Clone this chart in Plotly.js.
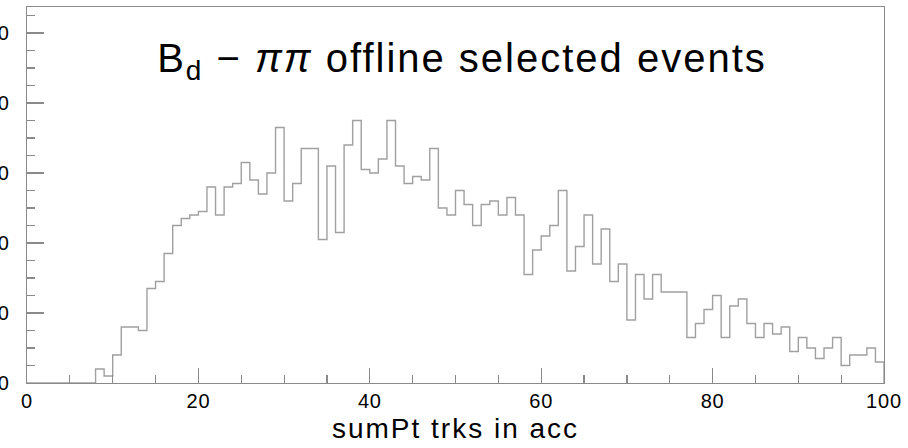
<!DOCTYPE html>
<html><head><meta charset="utf-8">
<script src="https://cdn.plot.ly/plotly-3.0.1.min.js"></script>
<style>
html,body{margin:0;padding:0;background:#fff;overflow:hidden;}
#chart{width:908px;height:448px;}
#chart .gtitle{letter-spacing:2px;}
#chart .xtitle{letter-spacing:2px;}
#chart .xtick text{letter-spacing:0.8px;}
</style>
</head><body><div id="chart"></div>
<script>
const binLow = 0;
const binWidth = 1;
const counts = [
  0, 0, 0, 0, 0, 0, 0, 0, 4, 2,
  8, 16, 16, 15, 27, 29, 37, 45, 47, 48,
  49, 56, 48, 56, 57, 63, 58, 54, 60, 73,
  52, 57, 67, 67, 41, 62, 43, 68, 75, 61,
  60, 64, 75, 62, 57, 59, 58, 67, 50, 48,
  55, 51, 45, 51, 52, 48, 53, 48, 31, 38,
  42, 45, 55, 32, 39, 48, 34, 44, 29, 34,
  18, 31, 24, 31, 26, 26, 26, 13, 17, 21,
  25, 13, 22, 24, 17, 13, 17, 14, 16, 9,
  13, 10, 7, 10, 13, 5, 8, 8, 10, 6
];
const xTickVals = [0, 20, 40, 60, 80, 100];
const xTickText = ['0', '20', '40', '60', '80', '100'];
const yTickVals = [0, 20, 40, 60, 80, 100];
const yTickText = ['0', '20', '40', '60', '80', '100'];
const titleText = 'B<sub>d</sub> − <i>ππ</i> offline selected events';
const xTitle = 'sumPt trks in acc';

const edges = counts.map((_, i) => binLow + i * binWidth);
edges.push(binLow + counts.length * binWidth);
const ys = counts.concat([counts[counts.length - 1]]);
edges.push(edges[edges.length - 1]);
ys.push(0);

const axCol = '#8a8a8a';
const font = 'Liberation Sans, Arial, Helvetica, sans-serif';

const trace = {
  type: 'scatter', mode: 'lines', x: edges, y: ys,
  line: {shape: 'hv', color: '#a0a0a0', width: 1.4},
  hoverinfo: 'skip', showlegend: false, cliponaxis: false
};

const layout = {
  width: 908, height: 448,
  margin: {l: 27, r: 24, t: 7, b: 65},
  paper_bgcolor: '#fff', plot_bgcolor: '#fff',
  font: {family: font, color: '#000'},
  title: {text: titleText, font: {family: font, size: 40, color: '#000'},
          x: 462 / 908, xanchor: 'center', xref: 'container', y: 1 - 58 / 448, yanchor: 'middle', yref: 'container'},
  xaxis: {
    range: [0, 100], showgrid: false, zeroline: false,
    showline: true, mirror: true, linecolor: axCol, linewidth: 1.2,
    ticks: 'inside', ticklen: 15, tickwidth: 1.2, tickcolor: axCol,
    tickmode: 'array', tickvals: xTickVals, ticktext: xTickText,
    tickfont: {family: font, size: 20, color: '#000'},
    minor: {tick0: 0, dtick: 5, ticks: 'inside', ticklen: 8, tickcolor: axCol, tickwidth: 1.2, showgrid: false},
    title: {text: xTitle, font: {family: font, size: 28, color: '#000'}, standoff: 7},
    automargin: false
  },
  yaxis: {
    range: [0, 107.43], showgrid: false, zeroline: false,
    showline: true, mirror: true, linecolor: axCol, linewidth: 1.2,
    ticks: 'inside', ticklen: 17, tickwidth: 1.2, tickcolor: axCol,
    tickmode: 'array', tickvals: yTickVals, ticktext: yTickText,
    tickfont: {family: font, size: 20, color: '#000'},
    ticklabelstandoff: 13,
    minor: {tick0: 0, dtick: 5, ticks: 'inside', ticklen: 8, tickcolor: axCol, tickwidth: 1.2, showgrid: false},
    automargin: false
  }
};

Plotly.newPlot('chart', [trace], layout, {staticPlot: true, displayModeBar: false});
</script>
</body></html>
